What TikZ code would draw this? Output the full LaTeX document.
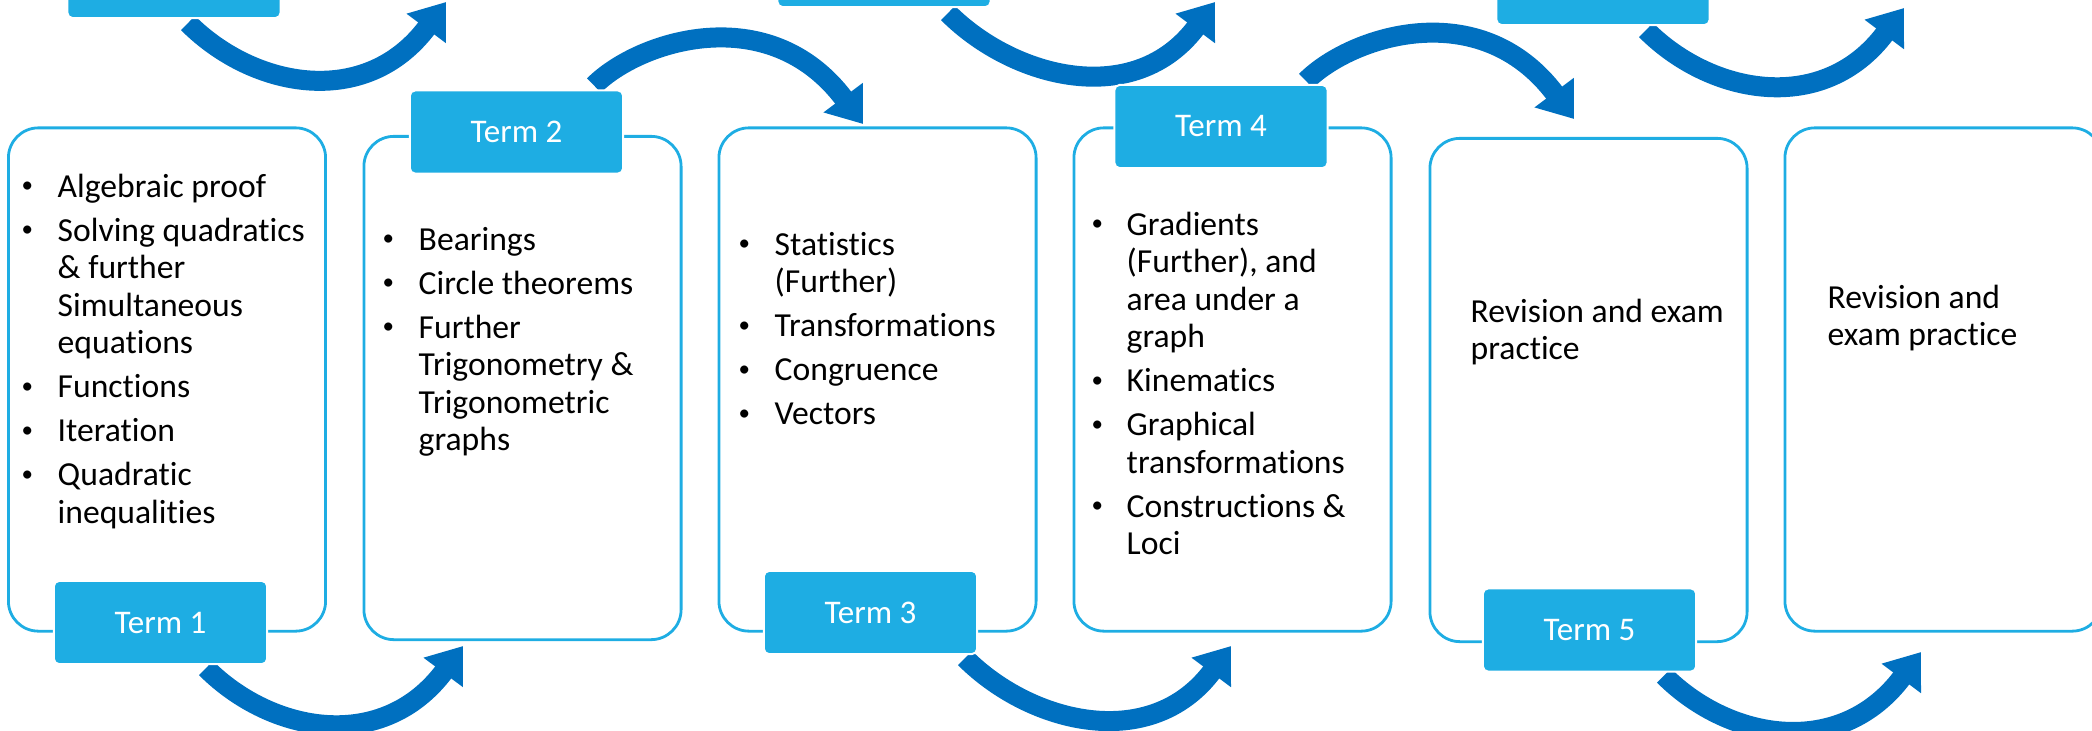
\documentclass[tikz,border=0pt]{standalone}
\usepackage{fontspec}
\setmainfont{Carlito}[Ligatures=CommonOff]
\usetikzlibrary{arrows.meta,calc,backgrounds}
\definecolor{termblue}{RGB}{30,173,227}
\definecolor{flowblue}{RGB}{0,112,192}
\tikzset{
	card/.style={draw=termblue, line width=0.028cm, rounded corners=0.3cm, minimum width=3.17cm, minimum height=5.03cm, inner sep=0},
	tab/.style={fill=termblue, draw=white, line width=0.02cm, rounded corners=0.05cm, minimum width=2.13cm, minimum height=0.83cm, inner sep=0, text=white, font=\fontsize{0.33cm}{0.4cm}\selectfont},
	topics/.style={anchor=base west, inner sep=0, font=\fontsize{0.336cm}{0.375cm}\selectfont},
	flow/.style={line width=0.2cm, flowblue, -{Triangle[length=0.33cm, width=0.47cm]}}
}
\newcommand{\bul}{\hspace{0.02cm}\raisebox{0.045cm}{\fontsize{0.23cm}{0.23cm}\selectfont\textbullet}}
\begin{document}
\begin{tikzpicture}[x=0.01cm, y=-0.01cm]
	\useasboundingbox (0,0) rectangle (2092,730);
	\clip (0,0) rectangle (2092,730);
	\node[card] (c1) at (167,379.5) {};
	\node[card] (c2) at (522.5,388) {};
	\node[card] (c3) at (877.5,379.5) {};
	\node[card] (c4) at (1232.5,379.5) {};
	\node[card] (c5) at (1588.5,390) {};
	\node[card] (c6) at (1943.5,379.5) {};
	\node[tab] (t0a) at (174,-23.5) {};
	\node[tab] (t0b) at (884,-34.5) {};
	\node[tab] (t0c) at (1603,-16.5) {};
	\node[tab] (t1) at (160.5,622.5) {Term 1};
	\node[tab] (t2) at (516.5,132) {Term 2};
	\node[tab] (t3) at (870.5,612.5) {Term 3};
	\node[tab] (t4) at (1221,126.5) {Term 4};
	\node[tab] (t5) at (1589.5,630) {Term 5};
	\coordinate (e0a) at (446,2);
	\coordinate (e0b) at (1215,2);
	\coordinate (e0c) at (1904,8);
	\coordinate (e1) at (463,646);
	\coordinate (e2) at (863,124);
	\coordinate (e3) at (1231,646);
	\coordinate (e4) at (1574,119);
	\coordinate (e5) at (1921,652);
	\begin{pgfonlayer}{background}
		\draw[flow] ($(t0a.south)+(14,4)$) .. controls +(66,66) and +(-80,107) .. (e0a);
		\draw[flow] ($(t0b.south)+(64,5)$) .. controls +(66,66) and +(-80,107) .. (e0b);
		\draw[flow] ($(t0c.south)+(43,4)$) .. controls +(66,66) and +(-80,107) .. (e0c);
		\draw[flow] ($(t1.south)+(45.5,3)$) .. controls +(66,66) and +(-80,107) .. (e1);
		\draw[flow] ($(t3.south)+(94.5,3)$) .. controls +(66,66) and +(-80,107) .. (e3);
		\draw[flow] ($(t5.south)+(74.5,3)$) .. controls +(66,66) and +(-80,107) .. (e5);
		\draw[flow] ($(t2.north)+(77.5,-4)$) .. controls +(45,-45) and +(-94,-125) .. (e2);
		\draw[flow] ($(t4.north)+(85,-3)$) .. controls +(45,-45) and +(-94,-125) .. (e4);
	\end{pgfonlayer}
	\node[topics] (l1) at (19,197) {\begin{tabular}[t]{@{}p{0.38cm}@{}l@{}}
		\bul & Algebraic proof\\[0.065cm]
		\bul & Solving quadratics\\
		& \& further\\
		& Simultaneous\\
		& equations\\[0.065cm]
		\bul & Functions\\[0.065cm]
		\bul & Iteration\\[0.065cm]
		\bul & Quadratic\\
		& inequalities
	\end{tabular}};
	\node[topics] (l2) at (380,250) {\begin{tabular}[t]{@{}p{0.38cm}@{}l@{}}
		\bul & Bearings\\[0.065cm]
		\bul & Circle theorems\\[0.065cm]
		\bul & Further\\
		& Trigonometry \&\\
		& Trigonometric\\
		& graphs
	\end{tabular}};
	\node[topics] (l3) at (736,255) {\begin{tabular}[t]{@{}p{0.38cm}@{}l@{}}
		\bul & Statistics\\
		& (Further)\\[0.065cm]
		\bul & Transformations\\[0.065cm]
		\bul & Congruence\\[0.065cm]
		\bul & Vectors
	\end{tabular}};
	\node[topics] (l4) at (1089,235) {\begin{tabular}[t]{@{}p{0.37cm}@{}l@{}}
		\bul & Gradients\\
		& (Further), and\\
		& area under a\\
		& graph\\[0.065cm]
		\bul & Kinematics\\[0.065cm]
		\bul & Graphical\\
		& transformations\\[0.065cm]
		\bul & Constructions \&\\
		& Loci
	\end{tabular}};
	\node[topics] (l5) at (1470,322) {\begin{tabular}[t]{@{}l@{}}
		Revision and exam\\
		practice
	\end{tabular}};
	\node[topics] (l6) at (1827,308) {\begin{tabular}[t]{@{}l@{}}
		Revision and\\
		exam practice
	\end{tabular}};
\end{tikzpicture}
\end{document}
